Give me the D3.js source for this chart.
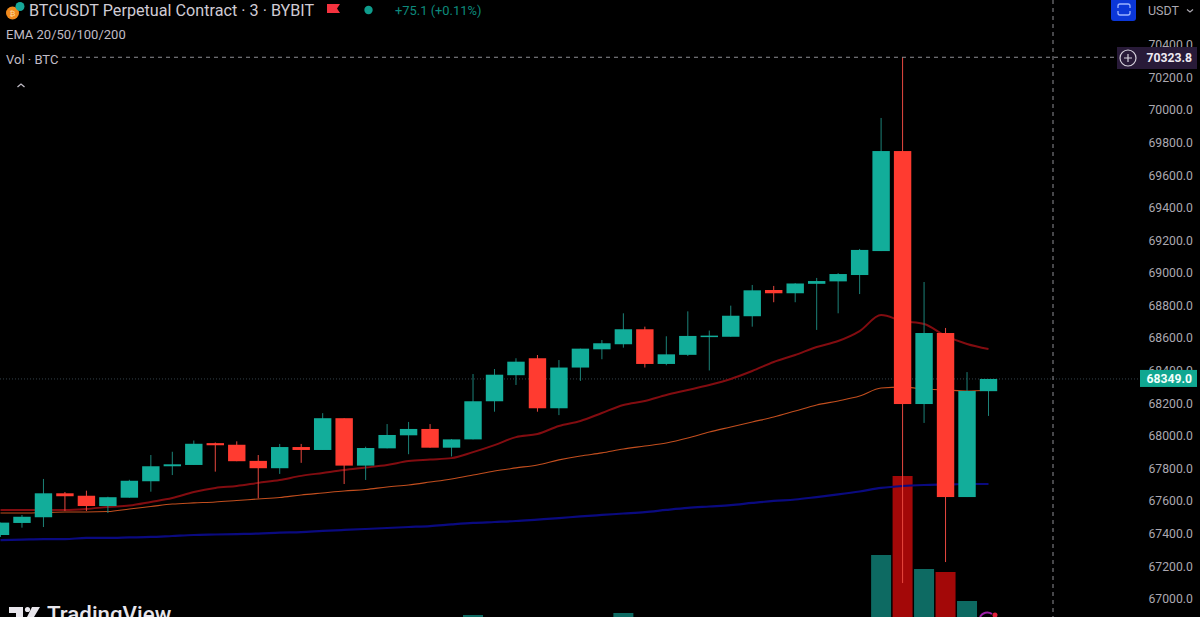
<!DOCTYPE html>
<html><head><meta charset="utf-8">
<script src="https://cdn.jsdelivr.net/npm/d3@7/dist/d3.min.js"></script>
<style>html,body{margin:0;padding:0;background:#000;overflow:hidden}svg{display:block}text{font-family:Roboto,"Open Sans",sans-serif}</style>
</head><body><svg id="c" width="1200" height="617"></svg>
<script>
const opens =[67391,67465,67500,67647,67632,67569,67620,67721,67813,67821,67955,67945,67846,67801,67931,67913,68108,67817,67923,68003,68042,67927,67978,68212,68372,68476,68169,68419,68531,68562,68654,68441,68497,68607,68608,68734,68895,68875,68933,68948,68987,69134,69748,68195,68631,67624,68274];
const highs =[67467,67514,67735,67655,67663,67626,67730,67882,67902,67971,67959,67966,67882,67950,67950,68139,68108,67933,68072,68085,68072,67980,68379,68410,68476,68496,68465,68535,68588,68752,68670,68611,68764,68646,68799,68926,68920,68937,68969,68999,69147,69951,70323.8,68944,68662,68391,68349];
const lows  =[67379,67436,67440,67538,67538,67526,67620,67657,67759,67821,67780,67844,67616,67766,67834,67913,67704,67729,67923,67887,67927,67873,67978,68148,68312,68148,68127,68337,68470,68541,68419,68433,68490,68401,68608,68670,68820,68820,68650,68752,68870,69134,67096,68079,67225,67624,68122];
const closes=[67467,67503,67647,67629,67569,67623,67724,67813,67825,67951,67942,67844,67801,67931,67913,68108,67817,67925,68005,68042,67927,67978,68212,68375,68455,68169,68419,68535,68568,68654,68441,68500,68613,68615,68737,68893,68875,68935,68950,68993,69141,69748,68195,68631,67624,68275,68349];
const emaRed=[67545,67545,67545,67545,67551,67563,67572,67594,67618,67655,67680,67692,67711,67729,67754,67772,67790,67805,67821,67845,67854,67863,67900,67943,67992,68011,68060,68091,68140,68189,68214,68251,68281,68312,68349,68398,68453,68496,68545,68582,68643,68741,68704,68686,68613,68564,68533];
const emaOrange=[67526,67526,67529,67532,67532,67535,67551,67566,67581,67588,67594,67603,67612,67621,67637,67649,67661,67670,67686,67698,67716,67735,67759,67784,67803,67821,67852,67876,67895,67919,67937,67956,67986,68023,68054,68085,68115,68152,68189,68214,68244,68293,68299,68287,68281,68275,68281];
const emaBlue=[67360,67363,67366,67366,67373,67373,67376,67379,67385,67391,67394,67397,67400,67406,67409,67416,67422,67428,67434,67440,67446,67456,67465,67471,67477,67486,67495,67505,67514,67523,67532,67545,67557,67566,67575,67588,67600,67609,67624,67640,67658,67680,67692,67698,67701,67704,67704];
const volumes=[8,6,14,6,5,5,9,8,5,12,6,9,8,10,5,13,19,9,7,6,9,7,25,14,9,20,18,11,6,27,18,6,10,6,12,14,5,6,7,6,12,85,164,71,68,39,12];
const priceTicks=[67000,67200,67400,67600,67800,68000,68200,68400,68600,68800,69000,69200,69400,69600,69800,70000,70200,70400];
const lastPrice=68349.0, crossPrice=70323.8, crossX=1053;
const titleText="BTCUSDT Perpetual Contract · 3 · BYBIT", changeText="+75.1 (+0.11%)", emaText="EMA 20/50/100/200", volText="Vol · BTC";

const svg=d3.select("#c");
const x=d3.scaleLinear().domain([0,46]).range([0.5,988.5]);
const y=d3.scaleLinear().domain([67000,70000]).range([598.7,110]);
const yVol=d3.scaleLinear().domain([0,164]).range([640,476]);
const idx=d3.range(opens.length);
const GREEN="#12ad9a",RED="#ff3b30";
svg.append("rect").attr("width",1200).attr("height",617).attr("fill","#000");

// last price line
svg.append("line").attr("x1",0).attr("x2",1140).attr("y1",y(lastPrice)).attr("y2",y(lastPrice))
  .attr("stroke","#33404a").attr("stroke-width",1).attr("stroke-dasharray","1 2");

// volumes
svg.append("g").selectAll("rect").data(idx).join("rect")
  .attr("x",i=>x(i)-10).attr("width",20)
  .attr("y",i=>yVol(volumes[i])).attr("height",i=>yVol(0)-yVol(volumes[i]))
  .attr("fill",i=>closes[i]>=opens[i]?"#0d6a62":"#a30808");

// EMAs
const line=a=>d3.line().x((d,i)=>x(i)).y(d=>y(d)).curve(d3.curveMonotoneX)(a);
svg.append("path").attr("d",line(emaBlue)).attr("fill","none").attr("stroke","#0a0a80").attr("stroke-width",2.2);
svg.append("path").attr("d",line(emaOrange)).attr("fill","none").attr("stroke","#c24e1e").attr("stroke-width",1.1);
svg.append("path").attr("d",line(emaRed)).attr("fill","none").attr("stroke","#820c10").attr("stroke-width",2);

// candles
const g=svg.append("g");
g.selectAll("line").data(idx).join("line")
  .attr("x1",i=>x(i)).attr("x2",i=>x(i)).attr("y1",i=>y(highs[i])).attr("y2",i=>y(lows[i]))
  .attr("stroke",i=>closes[i]>=opens[i]?"#1c8278":"#e8483f").attr("stroke-width",1);
g.selectAll("rect").data(idx).join("rect")
  .attr("x",i=>x(i)-8.7).attr("width",17.4)
  .attr("y",i=>y(Math.max(opens[i],closes[i])))
  .attr("height",i=>Math.max(1.5,Math.abs(y(opens[i])-y(closes[i]))))
  .attr("fill",i=>closes[i]>=opens[i]?GREEN:RED);

// small magenta/red mark at the bottom
svg.append("path").attr("d","M980 617 a8 8 0 0 1 12 -3").attr("fill","none").attr("stroke","#9c1fa8").attr("stroke-width",2);
svg.append("circle").attr("cx",995).attr("cy",615).attr("r",2.5).attr("fill","#e0203a");

// crosshair
const dash="#8e8e94";
svg.append("line").attr("x1",62).attr("x2",1117).attr("y1",y(crossPrice)).attr("y2",y(crossPrice)).attr("stroke",dash).attr("stroke-dasharray","4 4");
svg.append("line").attr("x1",crossX).attr("x2",crossX).attr("y1",0).attr("y2",617).attr("stroke",dash).attr("stroke-dasharray","4 4");

// price axis
const axis=d3.axisRight(y).tickValues(priceTicks).tickFormat(d3.format(".1f")).tickSize(0).tickPadding(0);
const ag=svg.append("g").attr("transform","translate(1148.5,0)").call(axis);
ag.select(".domain").remove();
ag.selectAll("text").attr("fill","#aba8b0").attr("font-size",12.2).style("font-family","Roboto,sans-serif");

// crosshair label
svg.append("rect").attr("x",1117).attr("y",47).attr("width",80).attr("height",22).attr("fill","#281a38");
svg.append("circle").attr("cx",1128).attr("cy",58).attr("r",8).attr("fill","none").attr("stroke","#d6d2dc").attr("stroke-width",1.2);
svg.append("path").attr("d","M1124 58h8M1128 54v8").attr("stroke","#d6d2dc").attr("stroke-width",1.2);
svg.append("text").attr("x",1192).attr("y",y(crossPrice)+4.5).attr("text-anchor","end").attr("font-size",12.2).attr("font-weight",700).attr("fill","#eeeaf2").text(d3.format(".1f")(crossPrice));

// last price label
svg.append("rect").attr("x",1140).attr("y",y(lastPrice)-9).attr("width",57).attr("height",17).attr("fill","#10a791");
svg.append("text").attr("x",1192).attr("y",y(lastPrice)+4.5).attr("text-anchor","end").attr("font-size",12.2).attr("font-weight",700).attr("fill","#f2fffc").text(d3.format(".1f")(lastPrice));

// top-right controls
svg.append("rect").attr("x",1111).attr("y",-4).attr("width",25).attr("height",25).attr("rx",3).attr("fill","#0b37d8");
svg.append("path").attr("d","M1118 8v-2a2 2 0 0 1 2-2h8a2 2 0 0 1 2 2v2M1118 11v2a2 2 0 0 0 2 2h8a2 2 0 0 0 2-2v-2").attr("fill","none").attr("stroke","#9db4ff").attr("stroke-width",1.3);
svg.append("text").attr("x",1148).attr("y",15).attr("font-size",12.5).attr("fill","#aba8b0").text("USDT");
svg.append("path").attr("d","M1187 9.5l3 2.5 3-2.5").attr("fill","none").attr("stroke","#aba8b0").attr("stroke-width",1.2);

// legend
svg.append("circle").attr("cx",12.5).attr("cy",13).attr("r",6.5).attr("fill","#f08a1d");
svg.append("text").attr("x",12.5).attr("y",16).attr("text-anchor","middle").attr("font-size",8).attr("fill","#ffd9a0").text("₿");
svg.append("circle").attr("cx",20).attr("cy",6.5).attr("r",4.5).attr("fill","#17a89a");
svg.append("text").attr("x",29).attr("y",16).attr("font-size",16.2).attr("fill","#cfcbd4").text(titleText);
svg.append("path").attr("d","M327 4h13l-3 4.5 3 4.5h-13z").attr("fill","#f5333f");
svg.append("circle").attr("cx",368.5).attr("cy",10).attr("r",4.2).attr("fill","#0f9c8c");
svg.append("text").attr("x",395).attr("y",15).attr("font-size",12.9).attr("fill","#0d8a7c").text(changeText);
svg.append("text").attr("x",6).attr("y",39).attr("font-size",13).attr("fill","#c0bcc6").text(emaText);
svg.append("text").attr("x",6).attr("y",64).attr("font-size",13).attr("fill","#c0bcc6").text(volText);
svg.append("path").attr("d","M17.5 87l3.5-3 3.5 3").attr("fill","none").attr("stroke","#c0bcc6").attr("stroke-width",1.3);

// logo
svg.append("path").attr("d","M9 607h14v10h-7v-4h-7zM32 607h8l-6 10h-7z").attr("fill","#e8e6ec");
svg.append("circle").attr("cx",27.5).attr("cy",609.5).attr("r",2.6).attr("fill","#e8e6ec");
svg.append("text").attr("x",47).attr("y",622).attr("font-size",22.3).attr("font-weight",500).attr("fill","#e8e6ec").text("TradingView");
</script></body></html>
